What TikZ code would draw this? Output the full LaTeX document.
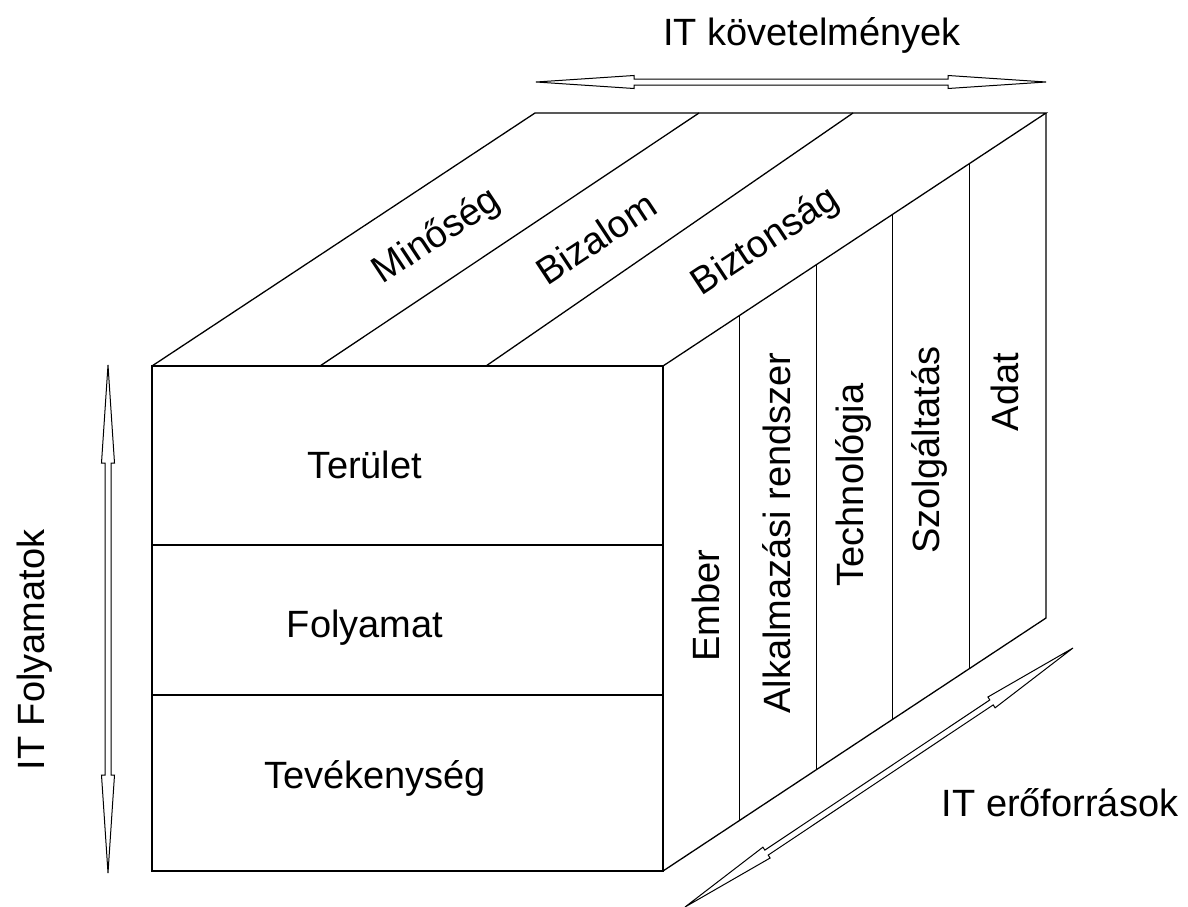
\documentclass[tikz,border=0pt]{standalone}
\usepackage{fontspec}
\setmainfont{Liberation Sans}
\usetikzlibrary{calc}
\newcommand{\hollowarrow}[2]{%
  \path coordinate (ha1) at ($(#1)!98pt!(#2)$)
        coordinate (ha2) at ($(#2)!98pt!(#1)$);
  \draw[arrowline] (#1)
    -- ($(ha1)!6.5pt!90:(#2)$) -- ($(ha1)!3pt!90:(#2)$)
    -- ($(ha2)!3pt!-90:(#1)$) -- ($(ha2)!6.5pt!-90:(#1)$)
    -- (#2)
    -- ($(ha2)!6.5pt!90:(#1)$) -- ($(ha2)!3pt!90:(#1)$)
    -- ($(ha1)!3pt!-90:(#2)$) -- ($(ha1)!6.5pt!-90:(#2)$)
    -- cycle;}
\begin{document}
\begin{tikzpicture}[x=1pt,y=-1pt,
  lbl/.style={font=\fontsize{38}{45}\selectfont, inner sep=0pt},
  edge/.style={draw=black, line width=1.3pt, line join=miter},
  arrowline/.style={draw=black, line width=1pt, fill=white, line join=miter}]
\useasboundingbox (0,0) rectangle (1188,907);
% cube corners
\coordinate (FTL) at (152,366);
\coordinate (FTR) at (663,366);
\coordinate (FBR) at (663,871);
\coordinate (FBL) at (152,871);
\coordinate (BTL) at (535,113);
\coordinate (BTR) at (1046,113);
\coordinate (BBR) at (1046,618);
% top face dividers
\coordinate (T1) at (320,366);
\coordinate (T2) at (486,366);
\coordinate (U1) at (699,113);
\coordinate (U2) at (853,113);
% front rows
\coordinate (R1L) at (152,545);
\coordinate (R1R) at (663,545);
\coordinate (R2L) at (152,695);
\coordinate (R2R) at (663,695);
% outline
\draw[edge] (FTL) -- (FTR) -- (FBR) -- (FBL) -- cycle;
\draw[edge] (FTL) -- (BTL) -- (BTR) -- (FTR);
\draw[edge] (BTR) -- (BBR) -- (FBR);
\draw[edge] (T1) -- (U1);
\draw[edge] (T2) -- (U2);
\draw[edge] (R1L) -- (R1R);
\draw[edge] (R2L) -- (R2R);
\foreach \k in {1,2,3,4} {
  \draw[edge] ($(FTR)!\k/5!(BTR)$) -- ($(FBR)!\k/5!(BBR)$);
}
% arrows
\coordinate (A1) at (536,82);
\coordinate (B1) at (1046,82);
\coordinate (A2) at (108,365);
\coordinate (B2) at (108,873);
\coordinate (A3) at (685,907);
\coordinate (B3) at (1073,648);
\hollowarrow{A1}{B1}
\hollowarrow{A2}{B2}
\hollowarrow{A3}{B3}
% labels
\node[lbl] (lkov) at (812,35) {IT követelmények};
\node[lbl, rotate=90] (lfoly) at (35,650) {IT Folyamatok};
\node[lbl] (lero) at (1060,803) {IT erőforrások};
\node[lbl] (lter) at (365,465) {Terület};
\node[lbl] (lfol) at (365,628) {Folyamat};
\node[lbl] (ltev) at (375,778) {Tevékenység};
\node[lbl, rotate=33.45] (lmin) at (437,237) {Minőség};
\node[lbl, rotate=33.45] (lbiz) at (596,238) {Bizalom};
\node[lbl, rotate=33.45] (lbzt) at (766,242) {Biztonság};
\node[lbl, rotate=90] (lemb) at (706,606) {Ember};
\node[lbl, rotate=90] (lalk) at (777,533) {Alkalmazási rendszer};
\node[lbl, rotate=90] (ltec) at (853,485) {Technológia};
\node[lbl, rotate=90] (lszo) at (929,450) {Szolgáltatás};
\node[lbl, rotate=90] (lada) at (1005,392) {Adat};
\end{tikzpicture}
\end{document}
